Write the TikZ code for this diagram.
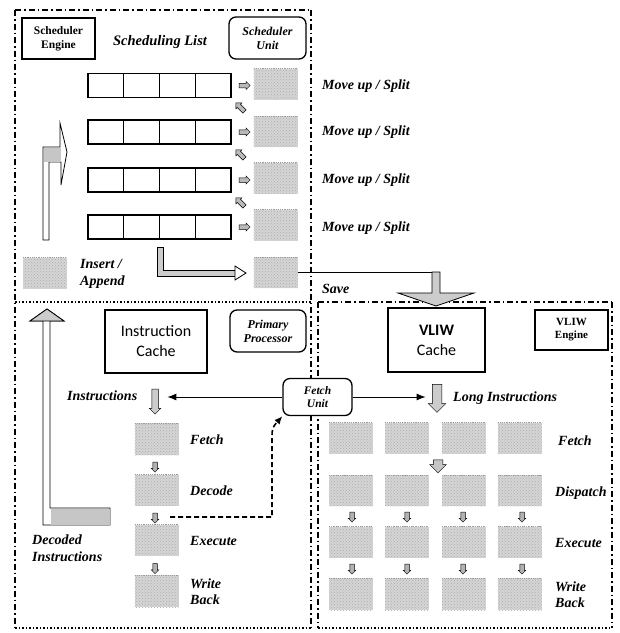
\documentclass[tikz,border=0pt]{standalone}
\usepackage{fontspec}
\setmainfont{Liberation Serif}
\newfontfamily\cali{Carlito}
\usetikzlibrary{shapes.arrows,arrows.meta,patterns}
\begin{document}
\begin{tikzpicture}[x=1pt,y=-1pt,
 lbl/.style={font=\fontsize{14}{17}\selectfont\bfseries\itshape, inner sep=0, anchor=west, align=left},
 slot/.style={fill=gray!33, minimum width=44, minimum height=31, inner sep=0,
   postaction={pattern=crosshatch dots, pattern color=gray!65},
   path picture={\draw[gray!80, densely dotted, line width=1.2pt] (path picture bounding box.north west) -- (path picture bounding box.north east);}},
 cell/.style={draw, line width=1.4pt, minimum width=35.75, minimum height=24, inner sep=0, outer sep=0},
 sarr/.style={single arrow, draw, fill=gray!55, line width=0.5pt, minimum height=11, inner xsep=0, inner ysep=2pt, single arrow head extend=1.8pt},
 darr/.style={single arrow, draw, fill=gray!60, line width=0.5pt, minimum height=10, inner xsep=0, inner ysep=2pt, single arrow head extend=1.6pt, rotate=-90},
 ebox/.style={draw, line width=1.6pt, inner sep=0, align=center},
 ubox/.style={draw, fill=white, line width=1.3pt, rounded corners=7pt, inner sep=0, align=center, font=\fontsize{12}{14}\selectfont\bfseries\itshape},
 ddot/.style={line width=1.6pt, dash pattern=on 6pt off 3pt on 1.5pt off 3pt},
 dotl/.style={line width=1.2pt, dash pattern=on 1.5pt off 2pt},
 ]
\fill[white] (0,0) rectangle (620,633);
\useasboundingbox (0,0) rectangle (620,633);

% ---------- region borders ----------
\draw[ddot] (15,10) -- (311,10);
\draw[ddot] (15,10) -- (15,628);
\draw[ddot] (311,10) -- (311,628);
\draw[dotl] (15,302) -- (311,302);
\draw[dotl] (15,628) -- (311,628);
\draw[ddot] (318,302) -- (612,302);
\draw[ddot] (318,302) -- (318,628);
\draw[ddot] (612,302) -- (612,628);
\draw[dotl] (318,628) -- (612,628);

% ---------- scheduler engine ----------
\node[ebox, minimum width=73, minimum height=41, font=\fontsize{11.5}{14}\selectfont\bfseries] (se) at (58.5,38.5) {Scheduler\\Engine};
\node[lbl, anchor=center, font=\fontsize{14.5}{16}\selectfont\bfseries\itshape] (sl) at (160,42) {Scheduling List};
\node[ubox, minimum width=77, minimum height=42] (su) at (267.5,38) {Scheduler\\Unit};

\foreach \r/\y in {1/85.5, 2/132, 3/180, 4/227} {
  \foreach \c in {1,...,4} {
    \node[cell] (c\r\c) at ({88+35.75*(\c-0.5)}, \y) {};
  }
  \node[sarr] (ra\r) at (243.5,\y) {};
}
\foreach \r/\y in {1/84, 2/131.5, 3/178, 4/225, 5/272.5} {
  \node[slot] (s\r) at (275.5,\y) {};
}
\foreach \i/\y in {1/108, 2/155, 3/203} {
  \node[sarr, rotate=135, minimum height=12] (da\i) at (241,\y) {};
}
\foreach \r/\y in {1/86, 2/132, 3/180, 4/228} {
  \node[lbl] (mv\r) at (322,\y) {Move up / Split};
}

\node[slot] (ia) at (45,273) {};
\node[lbl] (ial) at (80,274) {Insert /\\Append};

% bent arrow (left, top region)
\draw[fill=white, line width=0.8pt] (43,240) -- (43,147) -- (60,147) -- (60,123) -- (67,152) -- (61,185) -- (61,162) -- (49,162) -- (49,240) -- cycle;
\fill[gray!45] (43.5,147.5) rectangle (60.5,161.5);

% L arrow to save slot
\draw[fill=gray!40, line width=0.8pt] (157,247) -- (163,247) -- (163,270) -- (235,270) -- (235,276) -- (157,276) -- cycle;
\draw[fill=white, line width=0.8pt] (235,266) -- (246,273) -- (235,280) -- cycle;

% save
\coordinate (sv) at (436,272.5);
\draw[line width=1.8pt] (s5.east) -- (sv);
\draw[fill=gray!40, line width=0.8pt] (432,272) -- (440,272) -- (440,293) -- (474,293) -- (436,306) -- (398,293) -- (432,293) -- cycle;
\node[lbl] (save) at (322,289) {Save};

% ---------- primary processor ----------
\node[ebox, line width=2pt, minimum width=102, minimum height=63, font=\cali\fontsize{16}{20}\selectfont] (ic) at (156,341.5) {Instruction\\Cache};
\node[ubox, minimum width=76, minimum height=42] (pp) at (268,331) {Primary\\Processor};
\node[lbl] (ins) at (67,396) {Instructions};
\node[darr, minimum height=25, inner ysep=3pt, single arrow head extend=2.5pt, fill=gray!40] (ia1) at (155,400) {};
\node[ubox, minimum width=69, minimum height=37, font=\fontsize{11.5}{13}\selectfont\bfseries\itshape] (fu) at (317.5,397) {Fetch\\Unit};

\node[slot, minimum height=32] (pf) at (156.5,439) {};
\node[darr] (pa1) at (155,466) {};
\node[slot] (pd) at (156.5,490) {};
\node[darr] (pa2) at (155,517) {};
\node[slot] (pe) at (156.5,540) {};
\node[darr] (pa3) at (155,567.5) {};
\node[slot, minimum height=32] (pw) at (156.5,591) {};
\node[lbl] at (190,440) {Fetch};
\node[lbl] at (190,491) {Decode};
\node[lbl] at (190,541) {Execute};
\node[lbl, font=\fontsize{14}{16}\selectfont\bfseries\itshape] at (190,592) {Write\\Back};

\draw[line width=1pt, -{Latex[length=9pt,width=7pt]}] (fu.west) -- ++(-115,0);
\draw[line width=1pt, -{Latex[length=9pt,width=7pt]}] (fu.east) -- ++(73,0);

\coordinate (dd) at (170,517);
\draw[line width=1.6pt, dash pattern=on 5pt off 3pt, -{Latex[length=8pt,width=7pt]}] (dd) -- (272,517) -- (272,440) .. controls (272,428) .. (fu.south west);

% bent arrow (decoded instructions)
\draw[fill=white, line width=0.8pt] (43,525) -- (43,321) -- (30,321) -- (47,309) -- (64,321) -- (50,321) -- (50,508) -- (110,508) -- (110,525) -- cycle;
\draw[fill=gray!40, line width=0.8pt] (30,321) -- (47,309) -- (64,321) -- cycle;
\fill[gray!45] (50.5,508.5) rectangle (109.5,524.5);
\node[lbl] (dec) at (32,548) {Decoded\\Instructions};

% ---------- VLIW engine ----------
\node[ebox, line width=2pt, minimum width=97, minimum height=64, font=\cali\fontsize{16}{20}\selectfont] (vc) at (436.5,340) {\textbf{VLIW}\\Cache};
\node[ebox, minimum width=73, minimum height=40, font=\fontsize{11}{13}\selectfont\bfseries] (ve) at (571.5,330) {VLIW\\Engine};
\node[darr, minimum height=28, inner ysep=4.5pt, single arrow head extend=4pt, fill=gray!40] (la) at (437,396) {};
\node[lbl] (li) at (453,398) {Long Instructions};

\foreach \c/\x in {1/351, 2/406.5, 3/463.5, 4/519.5} {
  \node[slot] (vf\c) at (\x,438) {};
  \node[slot] (vd\c) at (\x,490.5) {};
  \node[slot] (vx\c) at (\x,542) {};
  \node[slot, minimum height=32] (vw\c) at (\x,594) {};
}
\foreach \c/\x in {1/352, 2/407, 3/463, 4/522} {
  \node[darr] (va\c) at (\x,516) {};
  \node[darr] (vb\c) at (\x,568) {};
}
\node[darr, minimum height=13, inner ysep=4.5pt, single arrow head extend=3.5pt, fill=gray!45] (dsp) at (438,464) {};
\node[lbl] at (558,441) {Fetch};
\node[lbl] at (555,493) {Dispatch};
\node[lbl] at (555,543) {Execute};
\node[lbl, font=\fontsize{14}{16}\selectfont\bfseries\itshape] at (555,595) {Write\\Back};
\end{tikzpicture}
\end{document}
